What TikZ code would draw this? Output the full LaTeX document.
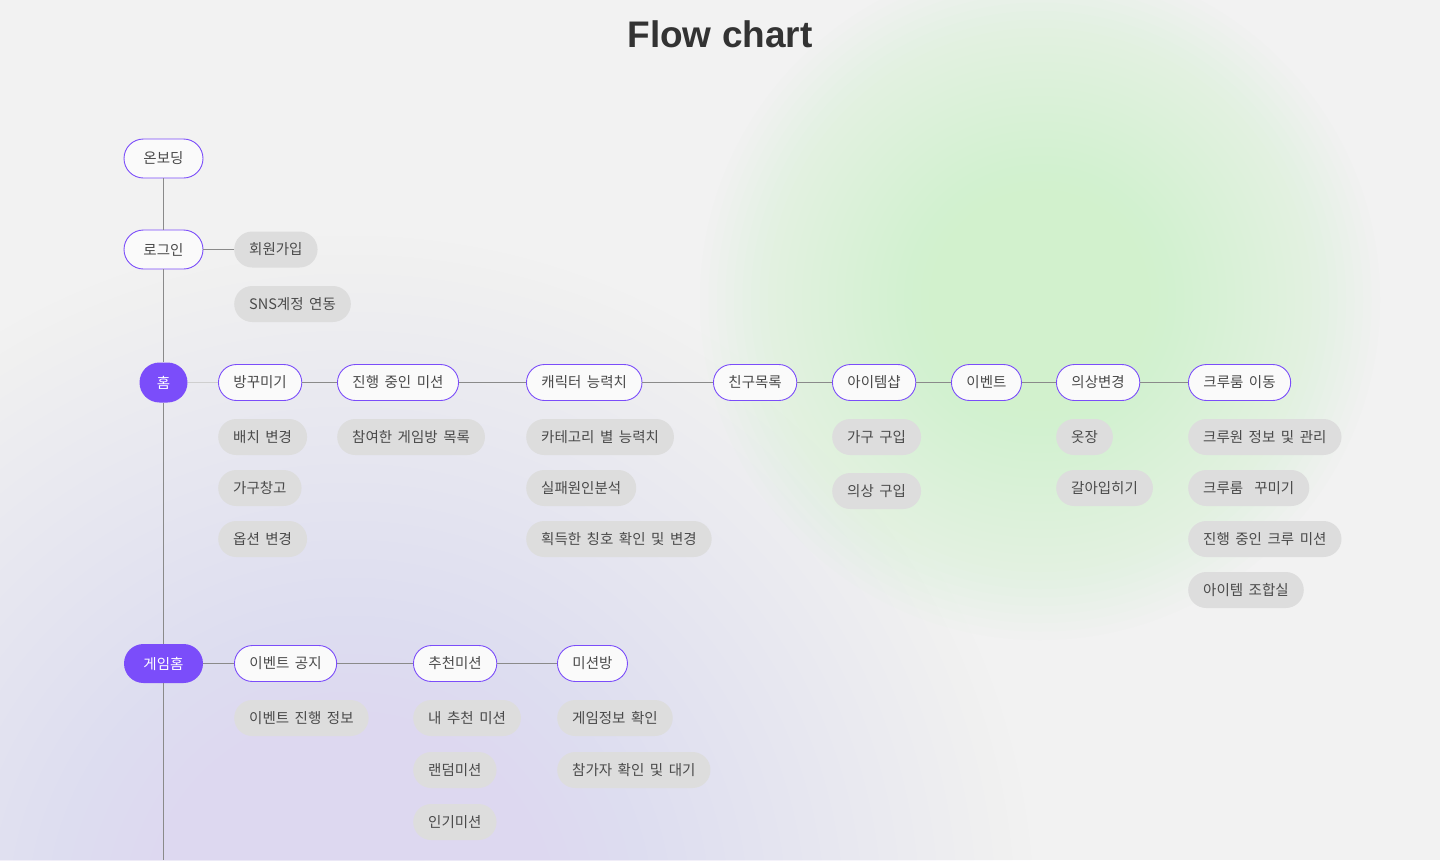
\documentclass[tikz,border=0pt]{standalone}
\usepackage{fontspec}
\setmainfont{Noto Sans CJK KR}[WordSpace=1.7]
\newfontfamily\titlefont{Liberation Sans}
\definecolor{bg}{HTML}{F2F2F2}
\definecolor{pur}{HTML}{7B4DFA}
\definecolor{pillc}{HTML}{DDDDDD}
\definecolor{txt}{HTML}{4A4A4A}
\definecolor{ln}{HTML}{8A8A8A}
\definecolor{lnlight}{HTML}{CFCFCF}
\definecolor{glowg}{HTML}{D2F1CD}
\definecolor{glowp}{HTML}{DDD8F0}
\tikzset{
  base/.style={rectangle, rounded corners=18pt, font=\fontsize{14.5}{17}\selectfont, text=txt, inner xsep=15pt, inner ysep=0pt, minimum height=36pt, anchor=west},
  mainbox/.style={base, draw=pur, line width=0.9pt, fill=white!60!bg},
  subbox/.style={base, fill=pillc},
  topbox/.style={mainbox, rounded corners=19.5pt, minimum height=39pt, minimum width=79pt, anchor=center, inner xsep=0pt},
  keybox/.style={base, fill=pur, text=white, anchor=center, inner xsep=0pt},
  conn/.style={draw=ln, line width=1pt},
}
\begin{document}
\begin{tikzpicture}[x=1pt,y=-1pt]
\useasboundingbox (0,0) rectangle (1440,860);
\fill[bg] (0,0) rectangle (1440,860);
\begin{scope}
\clip (0,0) rectangle (1440,860);
\foreach \i in {1,...,36}{
  \fill[glowp, opacity=0.028] (350,920) circle ({19*\i});
}
\foreach \i in {1,...,40}{
  \fill[glowg, opacity=0.05] (1040,300) circle ({8.5*\i});
}
\end{scope}
\node[font=\titlefont\bfseries\fontsize{37}{40}\selectfont, text=black!80] (title) at (720,34) {Flow chart};

% spine
\node[topbox] (onb) at (163.5,158.5) {온보딩};
\node[topbox] (login) at (163.5,249.5) {로그인};
\node[keybox, rounded corners=20pt, minimum width=48pt, minimum height=40pt] (home) at (163.5,382.5) {홈};
\node[keybox, rounded corners=19.5pt, minimum width=79pt, minimum height=39pt] (ghome) at (163.5,663.5) {게임홈};
\coordinate (bottom) at (163.5,860);

% login branch
\node[subbox] (signup) at (234,249.5) {회원가입};
\node[subbox] (sns) at (234,304) {SNS계정 연동};

% home row
\node[mainbox] (deco) at (218,382.5) {방꾸미기};
\node[mainbox] (ongoing) at (337,382.5) {진행 중인 미션};
\node[mainbox] (stat) at (526,382.5) {캐릭터 능력치};
\node[mainbox] (friend) at (713,382.5) {친구목록};
\node[mainbox] (shop) at (832,382.5) {아이템샵};
\node[mainbox] (event) at (951,382.5) {이벤트};
\node[mainbox] (dress) at (1056,382.5) {의상변경};
\node[mainbox] (crew) at (1188,382.5) {크루룸 이동};

\node[subbox] (d1) at (218,437) {배치 변경};
\node[subbox] (d2) at (218,488) {가구창고};
\node[subbox] (d3) at (218,539) {옵션 변경};
\node[subbox] (o1) at (337,437) {참여한 게임방 목록};
\node[subbox] (s1) at (526,437) {카테고리 별 능력치};
\node[subbox] (s2) at (526,488) {실패원인분석};
\node[subbox] (s3) at (526,539) {획득한 칭호 확인 및 변경};
\node[subbox] (p1) at (832,437) {가구 구입};
\node[subbox] (p2) at (832,491) {의상 구입};
\node[subbox] (c1) at (1056,437) {옷장};
\node[subbox] (c2) at (1056,488) {갈아입히기};
\node[subbox] (r1) at (1188,437) {크루원 정보 및 관리};
\node[subbox] (r2) at (1188,488) {크루룸\ \ 꾸미기};
\node[subbox] (r3) at (1188,539) {진행 중인 크루 미션};
\node[subbox] (r4) at (1188,590) {아이템 조합실};

% game home row
\node[mainbox] (notice) at (234,663.5) {이벤트 공지};
\node[mainbox] (rec) at (413,663.5) {추천미션};
\node[mainbox] (mroom) at (557,663.5) {미션방};
\node[subbox] (n1) at (234,718) {이벤트 진행 정보};
\node[subbox] (m1) at (413,718) {내 추천 미션};
\node[subbox] (m2) at (413,770) {랜덤미션};
\node[subbox] (m3) at (413,822) {인기미션};
\node[subbox] (g1) at (557,718) {게임정보 확인};
\node[subbox] (g2) at (557,770) {참가자 확인 및 대기};

% connectors
\draw[conn] (onb) -- (login);
\draw[conn] (login) -- (home);
\draw[conn] (home) -- (ghome);
\draw[conn] (ghome) -- (bottom);
\draw[conn] (login) -- (signup);
\draw[draw=lnlight, line width=1pt] (home) -- (deco);
\draw[conn] (deco) -- (ongoing);
\draw[conn] (ongoing) -- (stat);
\draw[conn] (stat) -- (friend);
\draw[conn] (friend) -- (shop);
\draw[conn] (shop) -- (event);
\draw[conn] (event) -- (dress);
\draw[conn] (dress) -- (crew);
\draw[conn] (ghome) -- (notice);
\draw[conn] (notice) -- (rec);
\draw[conn] (rec) -- (mroom);
\end{tikzpicture}
\end{document}
